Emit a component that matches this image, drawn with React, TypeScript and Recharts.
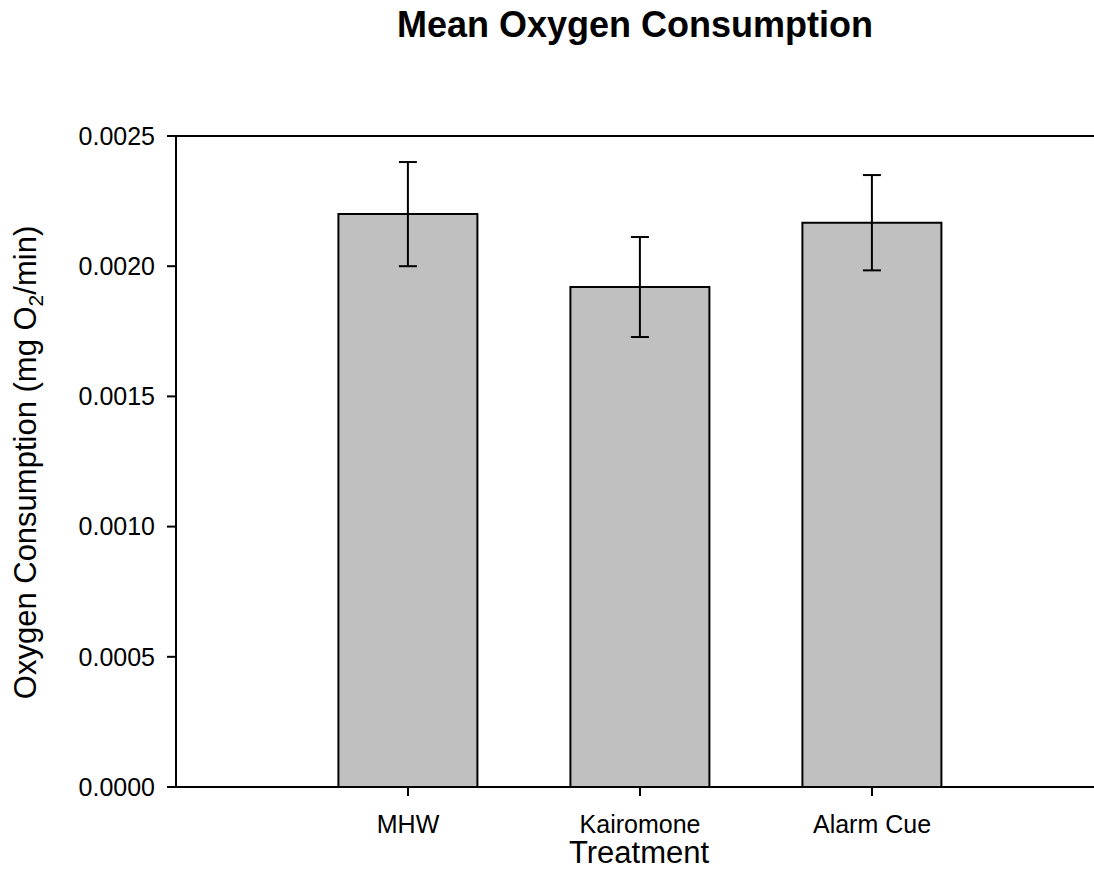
import { BarChart, Bar, XAxis, YAxis, ErrorBar, ReferenceLine } from "recharts"

const treatments = ["MHW", "Kairomone", "Alarm Cue"]
const meanO2 = [0.0022, 0.00192, 0.002167]
const semO2 = [0.0002, 0.000192, 0.000183]
const yTicks = [0, 0.0005, 0.001, 0.0015, 0.002, 0.0025]

const data = treatments.map((name, i) => ({ name, mean: meanO2[i], err: semO2[i] }))

const font = "'Liberation Sans', Arial, sans-serif"

function YTitle(props: any) {
  const vb = props.viewBox
  const cy = vb.y + vb.height / 2 + 1
  return (
    <text
      x={36}
      y={cy}
      transform={`rotate(-90, 36, ${cy})`}
      textAnchor="middle"
      fontSize={31}
      fontFamily={font}
      fill="#000"
    >
      Oxygen Consumption (mg O
      <tspan fontSize={21} dy={7}>2</tspan>
      <tspan dy={-7}>/min)</tspan>
    </text>
  )
}

function XTitle(props: any) {
  const vb = props.viewBox
  return (
    <text
      x={vb.x + vb.width / 2 + 4}
      y={863}
      textAnchor="middle"
      fontSize={31}
      fontFamily={font}
      fill="#000"
    >
      Treatment
    </text>
  )
}

export default function App() {
  return (
    <div style={{ position: "absolute", left: 0, top: 0, width: 1094, height: 895, background: "#fff" }}>
      <div
        style={{
          position: "absolute",
          left: 176,
          width: 918,
          top: 7,
          textAlign: "center",
          fontFamily: font,
          fontWeight: "bold",
          fontSize: 36,
          lineHeight: "36px"
        }}
      >
        Mean Oxygen Consumption
      </div>
      <BarChart
        width={1094}
        height={895}
        data={data}
        margin={{ top: 136, right: 0, bottom: 0, left: 0 }}
        barCategoryGap="20%"
      >
        <XAxis
          dataKey="name"
          padding={{ left: 116, right: 106 }}
          axisLine={{ stroke: "#000", strokeWidth: 2 }}
          tickLine={{ stroke: "#000", strokeWidth: 2 }}
          tickSize={9}
          tickMargin={19}
          tick={{ fill: "#000", fontSize: 25, fontFamily: font }}
          height={108}
          label={<XTitle />}
        />
        <YAxis
          domain={[0, 0.0025]}
          ticks={yTicks}
          width={176}
          interval={0}
          tickFormatter={(v: number) => v.toFixed(4)}
          axisLine={{ stroke: "#000", strokeWidth: 2 }}
          tickLine={{ stroke: "#000", strokeWidth: 2 }}
          tickSize={9}
          tickMargin={12}
          tick={{ fill: "#000", fontSize: 25, fontFamily: font }}
          label={<YTitle />}
        />
        <ReferenceLine y={0.0025} stroke="#000" strokeWidth={2} />
        <Bar dataKey="mean" fill="#c0c0c0" stroke="#000" strokeWidth={2} isAnimationActive={false}>
          <ErrorBar dataKey="err" width={9} stroke="#000" strokeWidth={2} isAnimationActive={false} />
        </Bar>
      </BarChart>
    </div>
  )
}
